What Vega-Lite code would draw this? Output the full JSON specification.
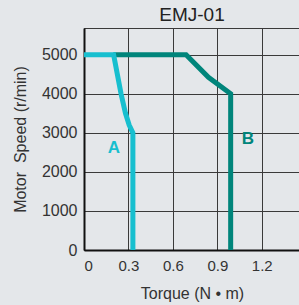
{
  "$schema": "https://vega.github.io/schema/vega-lite/v6.json",
  "autosize": "none",
  "padding": {"left": 84, "top": 28, "right": 0, "bottom": 55},
  "width": 216,
  "height": 222,
  "background": "#e4e7ea",
  "config": {
    "font": "Liberation Sans",
    "view": {"stroke": "#3a3a3a", "strokeWidth": 1, "fill": "#e4e7ea"},
    "axis": {"grid": true, "gridColor": "#3a3a3a", "gridWidth": 1, "gridOpacity": 1, "ticks": false, "domainColor": "#111111", "domainWidth": 2, "labelColor": "#333333", "titleColor": "#333333", "labelFont": "Liberation Sans", "titleFont": "Liberation Sans", "titleFontWeight": "normal"}
  },
  "title": {"text": "EMJ-01", "fontSize": 19, "fontWeight": "normal", "color": "#222222", "font": "Liberation Sans", "offset": 3},
  "datasets": {
    "curves": [
      {"series": "B", "o": 1, "torque": 0.198, "speed": 5000},
      {"series": "B", "o": 2, "torque": 0.689, "speed": 5000},
      {"series": "B", "o": 3, "torque": 0.84, "speed": 4420},
      {"series": "B", "o": 4, "torque": 0.99, "speed": 4000},
      {"series": "B", "o": 5, "torque": 0.99, "speed": 0},
      {"series": "A", "o": 1, "torque": 0, "speed": 5000},
      {"series": "A", "o": 2, "torque": 0.2, "speed": 5000},
      {"series": "A", "o": 3, "torque": 0.225, "speed": 4500},
      {"series": "A", "o": 4, "torque": 0.25, "speed": 4000},
      {"series": "A", "o": 5, "torque": 0.28, "speed": 3500},
      {"series": "A", "o": 6, "torque": 0.305, "speed": 3200},
      {"series": "A", "o": 7, "torque": 0.33, "speed": 3000},
      {"series": "A", "o": 8, "torque": 0.33, "speed": 0}
    ],
    "labels": [
      {"series": "A", "torque": 0.2025, "speed": 2615},
      {"series": "B", "torque": 1.107, "speed": 2846}
    ]
  },
  "layer": [
    {
      "data": {"name": "curves"},
      "mark": {"type": "line", "strokeWidth": 5, "strokeJoin": "miter", "strokeCap": "butt", "clip": true},
      "encoding": {
        "x": {"field": "torque", "type": "quantitative", "scale": {"domain": [0, 1.458], "nice": false, "zero": false},
          "axis": {"values": [0, 0.3, 0.6, 0.9, 1.2], "labelExpr": "datum.value == 0 ? '0' : format(datum.value, '.1f')", "labelFontSize": 15, "labelPadding": 8, "title": "Torque (N • m)", "titleFontSize": 16, "titlePadding": 12}},
        "y": {"field": "speed", "type": "quantitative", "scale": {"domain": [0, 5684], "nice": false},
          "axis": {"values": [0, 1000, 2000, 3000, 4000, 5000], "format": "d", "labelFontSize": 16, "labelPadding": 7, "title": "Motor\u00a0 Speed (r/min)", "titleFontSize": 16, "titlePadding": 13}},
        "detail": {"field": "series"},
        "order": {"field": "o"},
        "color": {"field": "series", "type": "nominal", "scale": {"domain": ["A", "B"], "range": ["#17bfcf", "#00857b"]}, "legend": null}
      }
    },
    {
      "data": {"name": "labels"},
      "mark": {"type": "text", "fontSize": 17, "fontWeight": "bold", "font": "Liberation Sans", "baseline": "middle", "align": "center"},
      "encoding": {
        "x": {"field": "torque", "type": "quantitative"},
        "y": {"field": "speed", "type": "quantitative"},
        "text": {"field": "series"},
        "color": {"field": "series", "type": "nominal", "scale": {"domain": ["A", "B"], "range": ["#17bfcf", "#00857b"]}, "legend": null}
      }
    }
  ]
}
